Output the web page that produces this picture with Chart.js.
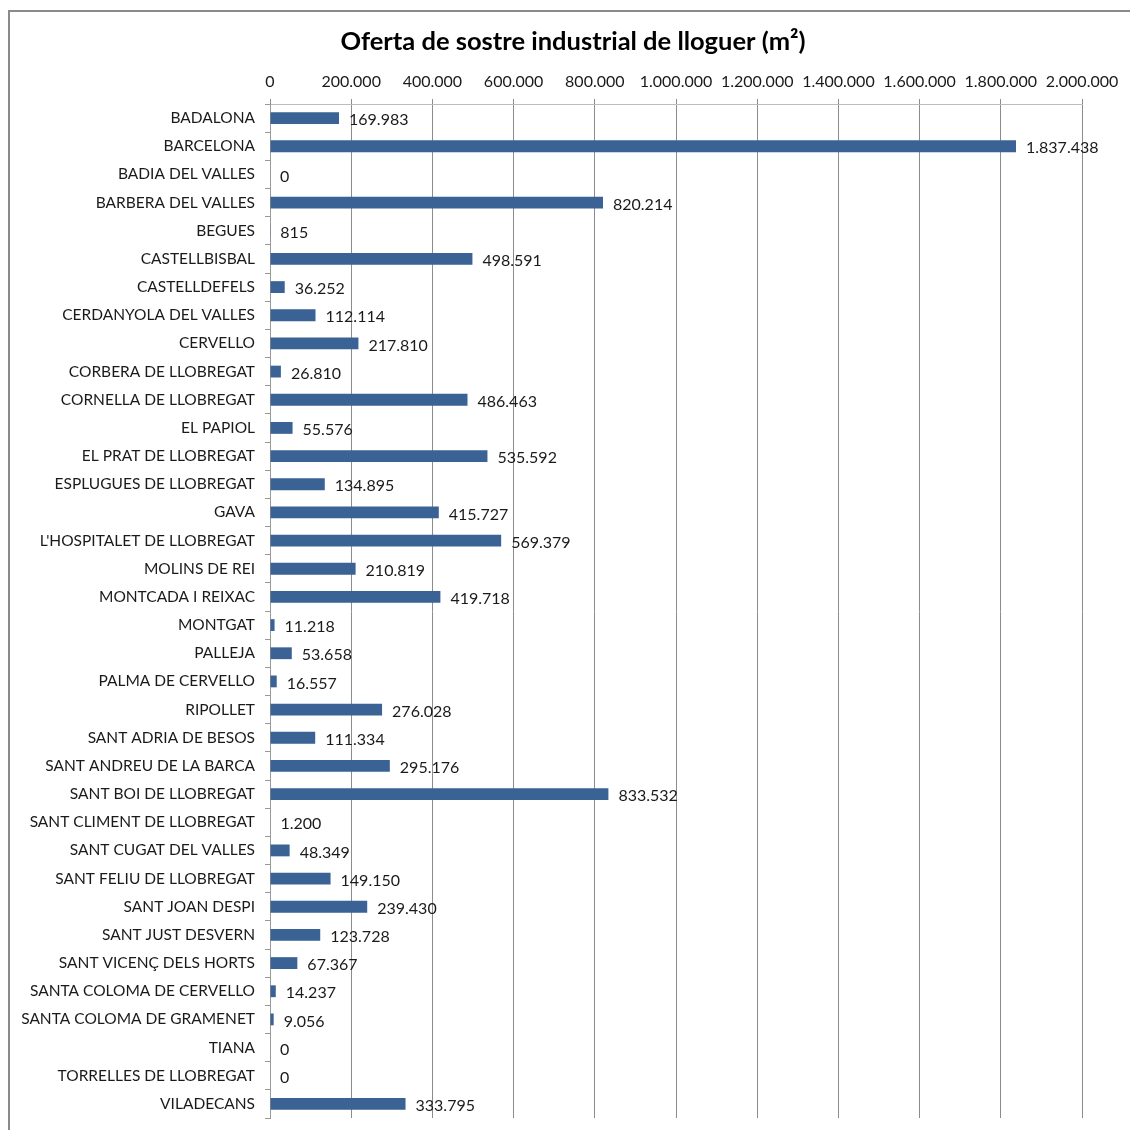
<!DOCTYPE html>
<html>
<head>
<meta charset="utf-8">
<script src="https://cdn.jsdelivr.net/npm/chart.js@4.4.0/dist/chart.umd.min.js"></script>
<style>
  html, body { margin: 0; padding: 0; background: #fff; }
  #wrap { position: absolute; left: 0; top: 0; width: 1130px; height: 1130px; }
</style>
</head>
<body>
<div id="wrap"><canvas id="graph" width="1130" height="1130"></canvas></div>
<script>

var municipis = [
    'BADALONA', 'BARCELONA', 'BADIA DEL VALLES', 'BARBERA DEL VALLES', 'BEGUES',
    'CASTELLBISBAL', 'CASTELLDEFELS', 'CERDANYOLA DEL VALLES', 'CERVELLO',
    'CORBERA DE LLOBREGAT', 'CORNELLA DE LLOBREGAT', 'EL PAPIOL', 'EL PRAT DE LLOBREGAT',
    'ESPLUGUES DE LLOBREGAT', 'GAVA', "L'HOSPITALET DE LLOBREGAT", 'MOLINS DE REI',
    'MONTCADA I REIXAC', 'MONTGAT', 'PALLEJA', 'PALMA DE CERVELLO', 'RIPOLLET',
    'SANT ADRIA DE BESOS', 'SANT ANDREU DE LA BARCA', 'SANT BOI DE LLOBREGAT',
    'SANT CLIMENT DE LLOBREGAT', 'SANT CUGAT DEL VALLES', 'SANT FELIU DE LLOBREGAT',
    'SANT JOAN DESPI', 'SANT JUST DESVERN', 'SANT VICENÇ DELS HORTS',
    'SANTA COLOMA DE CERVELLO', 'SANTA COLOMA DE GRAMENET', 'TIANA',
    'TORRELLES DE LLOBREGAT', 'VILADECANS'
];

var sostre = [
    169983, 1837438, 0, 820214, 815,
    498591, 36252, 112114, 217810,
    26810, 486463, 55576, 535592,
    134895, 415727, 569379, 210819,
    419718, 11218, 53658, 16557, 276028,
    111334, 295176, 833532,
    1200, 48349, 149150,
    239430, 123728, 67367,
    14237, 9056, 0,
    0, 333795
];

var titol = 'Oferta de sostre industrial de lloguer (m²)';

var eixMax = 2000000;
var eixPas = 200000;

var FONT = 'Lato, "Open Sans", sans-serif';


function fmt(v){
    return String(Math.round(v)).replace(/\B(?=(\d{3})+(?!\d))/g, '.');
}


// grey frame round the chart (only left and top are visible) + title
var marc = {
    id: 'marc',
    beforeDraw: function(chart){
        var c = chart.ctx;
        c.save();
        c.strokeStyle = '#8a8a8a';
        c.lineWidth = 2;
        c.beginPath();
        c.moveTo(1130, 11);
        c.lineTo(9, 11);
        c.lineTo(9, 1130);
        c.stroke();

        c.font = 'bold 25.5px ' + FONT;
        c.fillStyle = '#000';
        c.textAlign = 'center';
        c.textBaseline = 'middle';
        c.fillText(titol, 573, 42);
        c.restore();
    }
};

// value printed just after the end of each bar
var etiquetes = {
    id: 'etiquetes',
    afterDatasetsDraw: function(chart){
        var c = chart.ctx;
        var meta = chart.getDatasetMeta(0);
        c.save();
        c.font = '16px ' + FONT;
        c.fillStyle = '#1a1a1a';
        c.textAlign = 'left';
        c.textBaseline = 'middle';
        meta.data.forEach(function(bar, i){
            c.fillText(fmt(sostre[i]), bar.x + 10, bar.y + 2);
        });
        c.restore();
    }
};


var context = document.querySelector('#graph').getContext('2d');

var chart = new Chart(context, {
    type: 'bar',
    data: {
        labels: municipis,
        datasets: [
            {
                data: sostre,
                backgroundColor: '#3a6294',
                borderWidth: 0,
                barPercentage: 0.42,
                categoryPercentage: 1
            }
        ]
    },
    options: {
        indexAxis: 'y',
        responsive: false,
        animation: false,
        layout: {
            padding: { left: 0, right: 48, top: 64, bottom: 12 }
        },
        plugins: {
            legend: { display: false },
            tooltip: { enabled: false },
            title: { display: false }
        },
        scales: {
            x: {
                position: 'top',
                min: 0,
                max: eixMax,
                afterFit: function(scale){ scale.height = 40; },
                ticks: {
                    stepSize: eixPas,
                    color: '#1a1a1a',
                    padding: 8,
                    maxRotation: 0,
                    font: { family: FONT, size: 16 },
                    callback: function(v){ return fmt(v); }
                },
                grid: {
                    color: '#8c8c8c',
                    tickLength: 5,
                    drawTicks: true
                },
                border: { display: true, color: '#bdbdbd', width: 1 }
            },
            y: {
                afterFit: function(scale){
                    scale.width = 270;
                    scale.paddingTop = 0;
                    scale.paddingBottom = 0;
                },
                ticks: {
                    color: '#1a1a1a',
                    padding: 10,
                    autoSkip: false,
                    font: { family: FONT, size: 15.5 }
                },
                grid: {
                    drawOnChartArea: false,
                    offset: true,
                    tickLength: 5,
                    color: '#9a9a9a'
                },
                border: { display: true, color: '#9a9a9a', width: 1 }
            }
        }
    },
    plugins: [marc, etiquetes]
});
</script>
</body>
</html>
